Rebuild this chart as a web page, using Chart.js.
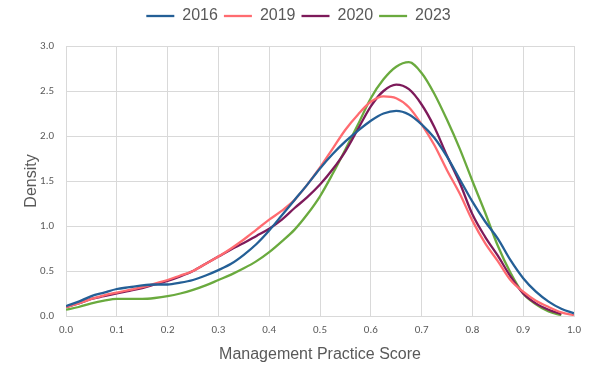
<!DOCTYPE html>
<html>
<head>
<meta charset="utf-8">
<script src="https://cdn.jsdelivr.net/npm/chart.js@4.4.1/dist/chart.umd.min.js"></script>
<style>
    html, body { margin: 0; padding: 0; background: #fff; }
    #wrap { width: 597px; height: 378px; }
</style>
</head>
<body>
<div id="wrap"><canvas id="chart"></canvas></div>
<script>
// Density curves of management practice scores by year

const scores = [0, 0.025, 0.05, 0.075, 0.1, 0.125, 0.15, 0.175, 0.2, 0.225, 0.25, 0.275, 0.3, 0.325, 0.35, 0.375,
    0.4, 0.425, 0.45, 0.475, 0.5, 0.525, 0.55, 0.575, 0.6, 0.625, 0.65, 0.675, 0.7, 0.725, 0.75, 0.775,
    0.8, 0.825, 0.85, 0.875, 0.9, 0.925, 0.95, 0.975, 1.0];

const density2016 = [0.11, 0.16, 0.22, 0.26, 0.30, 0.32, 0.34, 0.35, 0.35, 0.37, 0.40, 0.45, 0.51, 0.58, 0.68, 0.80,
    0.95, 1.12, 1.29, 1.46, 1.64, 1.80, 1.94, 2.06, 2.17, 2.25, 2.28, 2.24, 2.13, 1.98, 1.77, 1.52,
    1.27, 1.05, 0.86, 0.62, 0.42, 0.27, 0.16, 0.08, 0.03];

const density2019 = [0.10, 0.14, 0.19, 0.23, 0.26, 0.29, 0.32, 0.36, 0.40, 0.45, 0.50, 0.58, 0.66, 0.75, 0.85, 0.96,
    1.07, 1.17, 1.29, 1.46, 1.65, 1.86, 2.07, 2.24, 2.38, 2.44, 2.42, 2.32, 2.13, 1.90, 1.62, 1.36,
    1.06, 0.81, 0.61, 0.40, 0.27, 0.17, 0.10, 0.04, 0.01];

const density2020 = [0.10, 0.14, 0.19, 0.22, 0.25, 0.28, 0.31, 0.35, 0.39, 0.44, 0.50, 0.58, 0.66, 0.74, 0.81, 0.89,
    0.97, 1.07, 1.20, 1.32, 1.46, 1.63, 1.83, 2.08, 2.33, 2.50, 2.57, 2.52, 2.35, 2.10, 1.78, 1.48,
    1.13, 0.88, 0.67, 0.44, 0.25, 0.14, 0.07, 0.02, null];

const density2023 = [0.07, 0.10, 0.14, 0.17, 0.19, 0.19, 0.19, 0.20, 0.22, 0.25, 0.29, 0.34, 0.40, 0.46, 0.53, 0.61,
    0.71, 0.83, 0.96, 1.13, 1.33, 1.58, 1.85, 2.13, 2.42, 2.63, 2.77, 2.82, 2.70, 2.47, 2.18, 1.86,
    1.50, 1.15, 0.78, 0.48, 0.25, 0.13, 0.05, 0.01, null];

const seriesNames = ['2016', '2019', '2020', '2023'];
const seriesColors = ['#245f96', '#ff6b70', '#7d1a5a', '#6aaa3e'];
const allSeries = [density2016, density2019, density2020, density2023];

const textColor = '#595959';
const gridColor = '#d9d9d9';

const datasets = allSeries.map((values, idx) => ({
    label: seriesNames[idx],
    data: scores.map((s, i) => ({ x: s, y: values[i] })),
    borderColor: seriesColors[idx],
    backgroundColor: seriesColors[idx],
    borderWidth: 2.3,
    pointRadius: 0,
    pointStyle: 'line',
    cubicInterpolationMode: 'monotone',
    spanGaps: false,
    fill: false
}));

// extra room under the legend, and centre it on the whole canvas
const legendSpace = {
    id: 'legendSpace',
    beforeInit(chart) {
        const origFit = chart.legend.fit;
        chart.legend.fit = function () {
            origFit.bind(chart.legend)();
            this.height += 12;
        };
    },
    afterLayout(chart) {
        chart.legend.left = 0;
        chart.legend.right = chart.width;
    }
};

new Chart(document.getElementById('chart'), {
    type: 'line',
    data: { datasets: datasets },
    options: {
        responsive: true,
        maintainAspectRatio: false,
        animation: false,
        layout: { padding: { top: 2, right: 23, left: 0, bottom: 0 } },
        plugins: {
            legend: {
                position: 'top',
                labels: {
                    usePointStyle: true,
                    pointStyleWidth: 28,
                    padding: 6,
                    color: textColor,
                    font: { family: 'Arial, "Liberation Sans", sans-serif', size: 16 }
                }
            },
            tooltip: { enabled: false }
        },
        scales: {
            x: {
                type: 'linear',
                min: 0,
                max: 1,
                afterFit: (scale) => { scale.height = 62; },
                ticks: {
                    stepSize: 0.1,
                    color: textColor,
                    padding: 8,
                    maxRotation: 0,
                    font: { family: 'Calibri, Carlito, "Liberation Sans", sans-serif', size: 11 },
                    callback: (v) => v.toFixed(1)
                },
                grid: { color: gridColor, drawTicks: false },
                border: { color: gridColor },
                title: {
                    display: true,
                    text: 'Management Practice Score',
                    color: textColor,
                    padding: { top: 4, bottom: 14 },
                    font: { family: 'Arial, "Liberation Sans", sans-serif', size: 16 }
                }
            },
            y: {
                min: 0,
                max: 3,
                afterFit: (scale) => { scale.width = 66; },
                ticks: {
                    stepSize: 0.5,
                    color: textColor,
                    padding: 12,
                    font: { family: 'Calibri, Carlito, "Liberation Sans", sans-serif', size: 11 },
                    callback: (v) => v.toFixed(1)
                },
                grid: { color: gridColor, drawTicks: false },
                border: { color: gridColor },
                title: {
                    display: true,
                    text: 'Density',
                    color: textColor,
                    padding: { top: 22, bottom: 4 },
                    font: { family: 'Arial, "Liberation Sans", sans-serif', size: 16 }
                }
            }
        }
    },
    plugins: [legendSpace]
});
</script>
</body>
</html>
